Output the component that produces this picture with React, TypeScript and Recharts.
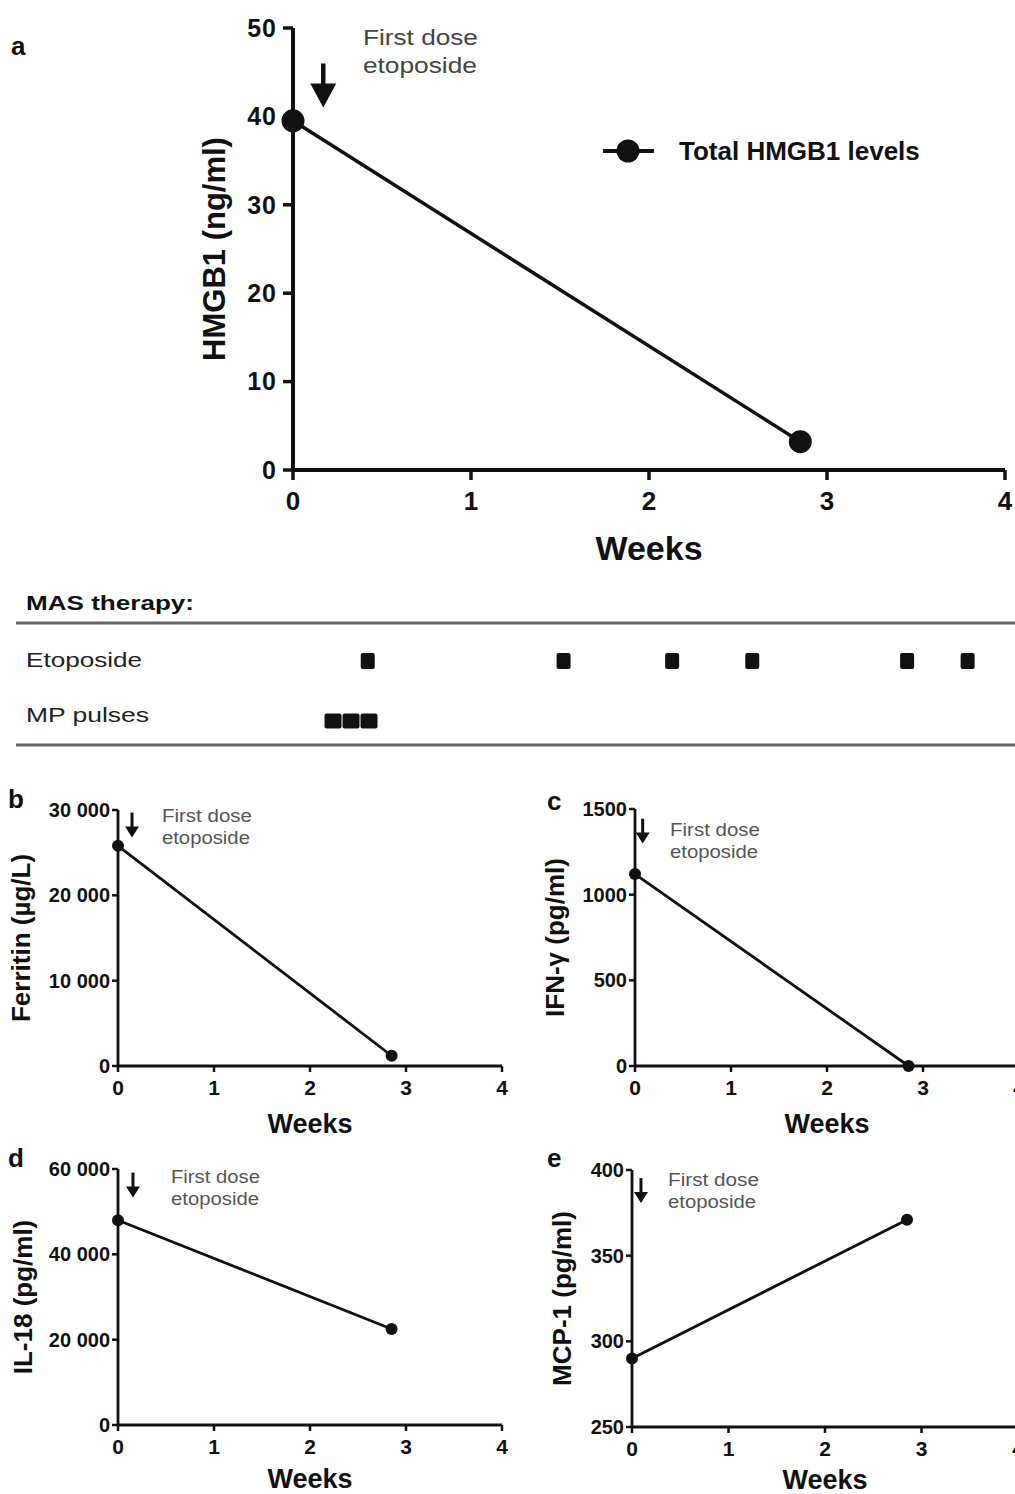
import React from 'react';
import { LineChart, Line, XAxis, YAxis, ReferenceDot, Label, Legend, ScatterChart, Scatter } from 'recharts';

const FONT = '"Liberation Sans", Arial, Helvetica, sans-serif';
const INK = '#111';

// ---- data ----
const weekPoints = [0, 2.85];
const hmgb1Values = [39.5, 3.2];
const ferritinValues = [25800, 1200];
const ifnValues = [1120, 0];
const il18Values = [48000, 22500];
const mcp1Values = [290, 371];

const weekTicks = [0, 1, 2, 3, 4];
const hmgb1Ticks = [0, 10, 20, 30, 40, 50];
const ferritinTicks = [0, 10000, 20000, 30000];
const ifnTicks = [0, 500, 1000, 1500];
const il18Ticks = [0, 20000, 40000, 60000];
const mcp1Ticks = [250, 300, 350, 400];

const therapyRows = ['Etoposide', 'MP pulses'];
const etoposideDoseWeeks = [0.42, 1.52, 2.13, 2.58, 3.45, 3.79];
const mpPulseWeeks = [0.225, 0.326, 0.427];

const toSeries = (vals: number[]) => weekPoints.map((w, i) => ({ week: w, value: vals[i] }));
const fmt = (v: number) => (v >= 10000 ? `${Math.floor(v / 1000)} ${String(v % 1000).padStart(3, '0')}` : String(v));

const Arrow = (p: any) => {
  const { cx, cy, len, headW, headH, shaftW } = p;
  const top = cy - len / 2;
  const tip = cy + len / 2;
  const base = tip - headH;
  return (
    <g>
      <rect x={cx - shaftW / 2} y={top} width={shaftW} height={base - top + 1} fill={INK} />
      <polygon points={`${cx - headW / 2},${base} ${cx + headW / 2},${base} ${cx},${tip}`} fill={INK} />
    </g>
  );
};

const Note = (p: any) => {
  const { cx, cy, size, gap, w1, w2, color } = p;
  return (
    <g>
      <text x={cx} y={cy} fontSize={size} fill={color} fontFamily={FONT} textLength={w1} lengthAdjust="spacingAndGlyphs">First dose</text>
      <text x={cx} y={cy + gap} fontSize={size} fill={color} fontFamily={FONT} textLength={w2} lengthAdjust="spacingAndGlyphs">etoposide</text>
    </g>
  );
};

const EtoSquare = (p: any) => <rect x={p.cx - 7} y={p.cy - 8} width={14} height={16} rx={2} fill={INK} />;
const MpSquare = (p: any) => <rect x={p.cx - 8.5} y={p.cy - 7.5} width={17} height={15} rx={2} fill={INK} />;

function PanelA() {
  const data = toSeries(hmgb1Values);
  return (
    <div style={{ position: 'absolute', left: 0, top: 0 }}>
      <LineChart width={1015} height={580} data={data} margin={{ top: 28, right: 10, bottom: 0, left: 0 }}>
        <XAxis
          type="number" dataKey="week" domain={[0, 4]} ticks={weekTicks} interval={0} height={110}
          axisLine={{ stroke: INK, strokeWidth: 4 }} tickLine={{ stroke: INK, strokeWidth: 3.5 }}
          tickSize={10} tickMargin={12}
          tick={{ fill: INK, fontSize: 26, fontWeight: 700, fontFamily: FONT }}
        >
          <Label value="Weeks" position="insideBottom" offset={20} style={{ fontSize: 34, fontWeight: 700, fill: INK, fontFamily: FONT }} />
        </XAxis>
        <YAxis
          type="number" domain={[0, 50]} ticks={hmgb1Ticks} interval={0} width={293}
          axisLine={{ stroke: INK, strokeWidth: 4 }} tickLine={{ stroke: INK, strokeWidth: 3.5 }}
          tickSize={10} tickMargin={6}
          tick={{ fill: INK, fontSize: 25, fontWeight: 700, fontFamily: FONT, letterSpacing: 1 }}
        >
          <Label value="HMGB1 (ng/ml)" angle={-90} position="insideLeft" offset={214} style={{ textAnchor: 'middle', fontSize: 31, fontWeight: 700, fill: INK, fontFamily: FONT }} />
        </YAxis>
        <Legend
          layout="horizontal" verticalAlign="middle" align="center"
          wrapperStyle={{ left: 603, top: 137, width: 400 }}
          content={(props: any) => (
            <div style={{ display: 'flex', alignItems: 'center', height: 28 }}>
              <svg width={52} height={28}>
                <line x1={0} x2={51} y1={14} y2={14} stroke={INK} strokeWidth={4} />
                <circle cx={25} cy={14} r={11.5} fill={INK} />
              </svg>
              <span style={{ marginLeft: 24, fontFamily: FONT, fontWeight: 700, fontSize: 26, color: INK, lineHeight: '28px' }}>
                {props?.payload?.[0]?.value ?? 'Total HMGB1 levels'}
              </span>
            </div>
          )}
        />
        <ReferenceDot x={0.17} y={43.5} r={0} shape={(p: any) => <Arrow {...p} len={44} headW={26} headH={24} shaftW={4.5} />} />
        <ReferenceDot x={0.393} y={48.08} r={0} shape={(p: any) => <Note {...p} size={22} gap={28} w1={115} w2={114} color="#444" />} />
        <Line
          type="linear" dataKey="value" name="Total HMGB1 levels" stroke={INK} strokeWidth={3.5}
          dot={{ r: 11.5, fill: INK, stroke: INK, strokeWidth: 0 }} isAnimationActive={false}
        />
      </LineChart>
    </div>
  );
}

function TherapyTable() {
  const eto = etoposideDoseWeeks.map((w) => ({ week: w, row: 1 }));
  const mp = mpPulseWeeks.map((w) => ({ week: w, row: 0 }));
  return (
    <div style={{ position: 'absolute', left: 0, top: 631 }}>
      <ScatterChart width={1015} height={120} margin={{ top: 0, right: 10, bottom: 0, left: 293 }}>
        <XAxis type="number" dataKey="week" domain={[0, 4]} hide />
        <YAxis type="number" dataKey="row" domain={[-0.5, 1.5]} hide />
        <Scatter name={therapyRows[0]} data={eto} shape={EtoSquare} isAnimationActive={false} />
        <Scatter name={therapyRows[1]} data={mp} shape={MpSquare} isAnimationActive={false} />
      </ScatterChart>
    </div>
  );
}

type SmallProps = {
  left: number; top: number; height: number; plotLeft: number; plotRight: number; plotTop: number; axisH: number;
  values: number[]; yDomain: [number, number]; yTicks: number[]; yLabel: string; yLabelX: number; weeksOffset: number;
  arrowAt: [number, number]; noteAt: [number, number]; noteW: [number, number];
};

function SmallPanel(s: SmallProps) {
  const width = 520;
  const data = toSeries(s.values);
  return (
    <div style={{ position: 'absolute', left: s.left, top: s.top }}>
      <LineChart width={width} height={s.height} data={data} margin={{ top: s.plotTop, right: width - s.plotRight, bottom: 0, left: 0 }}>
        <XAxis
          type="number" dataKey="week" domain={[0, 4]} ticks={weekTicks} interval={0} height={s.axisH}
          axisLine={{ stroke: INK, strokeWidth: 2.8 }} tickLine={{ stroke: INK, strokeWidth: 2.5 }}
          tickSize={6} tickMargin={8}
          tick={{ fill: INK, fontSize: 21, fontWeight: 700, fontFamily: FONT }}
        >
          <Label value="Weeks" position="insideBottom" offset={s.weeksOffset} style={{ fontSize: 27, fontWeight: 700, fill: INK, fontFamily: FONT }} />
        </XAxis>
        <YAxis
          type="number" domain={s.yDomain} ticks={s.yTicks} interval={0} width={s.plotLeft} tickFormatter={fmt}
          axisLine={{ stroke: INK, strokeWidth: 2.8 }} tickLine={{ stroke: INK, strokeWidth: 2.5 }}
          tickSize={6} tickMargin={2}
          tick={{ fill: INK, fontSize: 20, fontWeight: 700, fontFamily: FONT }}
        >
          <Label value={s.yLabel} angle={-90} position="insideLeft" offset={s.yLabelX} style={{ textAnchor: 'middle', fontSize: 26, fontWeight: 700, fill: INK, fontFamily: FONT }} />
        </YAxis>
        <ReferenceDot x={s.arrowAt[0]} y={s.arrowAt[1]} r={0} shape={(p: any) => <Arrow {...p} len={25} headW={14} headH={11} shaftW={3} />} />
        <ReferenceDot x={s.noteAt[0]} y={s.noteAt[1]} r={0} shape={(p: any) => <Note {...p} size={18} gap={22} w1={s.noteW[0]} w2={s.noteW[1]} color="#555" />} />
        <Line
          type="linear" dataKey="value" stroke={INK} strokeWidth={2.8}
          dot={{ r: 6, fill: INK, stroke: INK, strokeWidth: 0 }} isAnimationActive={false}
        />
      </LineChart>
    </div>
  );
}

function Overlay() {
  const letter = { fontFamily: FONT, fontWeight: 700, fontSize: 26, fill: INK } as const;
  return (
    <svg width={1015} height={1494} style={{ position: 'absolute', left: 0, top: 0, pointerEvents: 'none' }}>
      <text x={11} y={55} {...letter}>a</text>
      <text x={8} y={808} {...letter}>b</text>
      <text x={547} y={810} {...letter}>c</text>
      <text x={8} y={1167} {...letter}>d</text>
      <text x={547} y={1167} {...letter}>e</text>
      <line x1={16} x2={1015} y1={623} y2={623} stroke="#666" strokeWidth={3} />
      <line x1={16} x2={1015} y1={745} y2={745} stroke="#666" strokeWidth={3} />
      <text x={26} y={610} fontFamily={FONT} fontWeight={700} fontSize={21} fill={INK} textLength={168} lengthAdjust="spacingAndGlyphs">MAS therapy:</text>
      <text x={26} y={667} fontFamily={FONT} fontSize={21} fill="#222" textLength={116} lengthAdjust="spacingAndGlyphs">{therapyRows[0]}</text>
      <text x={26} y={722} fontFamily={FONT} fontSize={21} fill="#222" textLength={123} lengthAdjust="spacingAndGlyphs">{therapyRows[1]}</text>
    </svg>
  );
}

export default function App() {
  return (
    <div style={{ position: 'absolute', left: 0, top: 0, width: 1015, height: 1494, overflow: 'hidden', background: '#fff' }}>
      <PanelA />
      <TherapyTable />
      <SmallPanel left={0} top={770} height={370} plotLeft={118} plotRight={502} plotTop={40} axisH={74}
        values={ferritinValues} yDomain={[0, 30000]} yTicks={ferritinTicks} yLabel="Ferritin (µg/L)" yLabelX={21} weeksOffset={7}
        arrowAt={[0.146, 28240]} noteAt={[0.458, 28594]} noteW={[90, 88]} />
      <SmallPanel left={520} top={770} height={370} plotLeft={115} plotRight={499} plotTop={39} axisH={74}
        values={ifnValues} yDomain={[0, 1500]} yTicks={ifnTicks} yLabel="IFN-γ (pg/ml)" yLabelX={35} weeksOffset={7}
        arrowAt={[0.08, 1371]} noteAt={[0.365, 1342]} noteW={[90, 88]} />
      <SmallPanel left={0} top={1130} height={364} plotLeft={118} plotRight={502} plotTop={39} axisH={69}
        values={il18Values} yDomain={[0, 60000]} yTicks={il18Ticks} yLabel="IL-18 (pg/ml)" yLabelX={23} weeksOffset={6}
        arrowAt={[0.156, 56250]} noteAt={[0.552, 56719]} noteW={[89, 88]} />
      <SmallPanel left={520} top={1130} height={364} plotLeft={112} plotRight={498} plotTop={40} axisH={67}
        values={mcp1Values} yDomain={[250, 400]} yTicks={mcp1Ticks} yLabel="MCP-1 (pg/ml)" yLabelX={42} weeksOffset={5}
        arrowAt={[0.093, 388]} noteAt={[0.373, 390.7]} noteW={[91, 88]} />
      <Overlay />
    </div>
  );
}
